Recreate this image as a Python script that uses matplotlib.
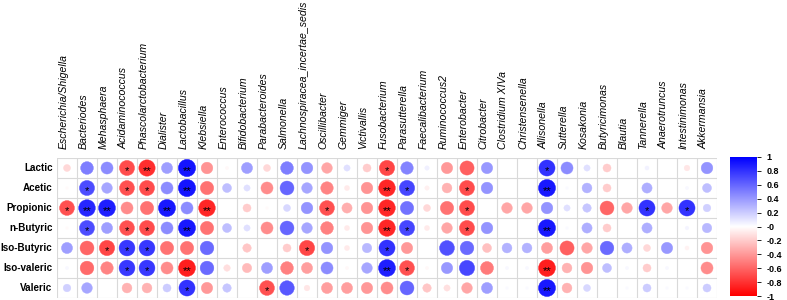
import numpy as np
import matplotlib
matplotlib.use('Agg')
import matplotlib.pyplot as plt
from matplotlib.colors import LinearSegmentedColormap
from matplotlib.patches import Circle

plt.rcParams['font.family'] = ['Liberation Sans', 'DejaVu Sans']

#genera across the top, acids down the side
genera = ['Escherichia/Shigella', 'Bacteriodes', 'Mehasphaera', 'Acidaminococcus',
          'Phascolarctobacterium', 'Dialister', 'Lactobacillus', 'Klebsiella',
          'Enterococcus', 'Bifidobacterium', 'Parabacteroides', 'Salmonella',
          'Lachnospiracea_incertae_sedis', 'Oscillibacter', 'Gemmiger', 'Victivallis',
          'Fusobacterium', 'Parasutterella', 'Faecalibacterium', 'Ruminococcus2',
          'Enterobacter', 'Citrobacter', 'Clostridium XIVa', 'Christensenella',
          'Allisonella', 'Sutterella', 'Kosakonia', 'Butyricimonas', 'Blautia',
          'Tannerella', 'Anaerotruncus', 'Intestinimonas', 'Akkermansia']
acids = ['Lactic', 'Acetic', 'Propionic', 'n-Butyric', 'Iso-Butyric', 'Iso-valeric', 'Valeric']

#correlation values
lactic = [-0.15, 0.5, 0.45, -0.7, -0.82, 0.38, 0.92, -0.42, -0.03, 0.38, -0.15, 0.5, 0.42, -0.35,
          0.12, -0.2, -0.72, 0.48, 0.06, -0.4, -0.62, 0.4, 0, 0, 0.8, 0.45, 0.12, -0.2, 0, 0.05,
          0, -0.1, 0.42]
acetic = [-0.02, 0.7, 0.35, -0.68, -0.7, 0.45, 0.92, -0.55, 0.25, 0.12, -0.45, 0.6, 0.35, -0.48,
          -0.08, -0.42, -0.85, 0.72, -0.06, -0.3, -0.7, 0.42, 0, 0, 0.9, 0.02, 0.3, -0.2, 0, 0.32,
          0, 0.03, 0.25]
propionic = [-0.68, 0.85, 0.88, -0.45, -0.55, 0.9, 0.45, -0.85, 0, -0.2, -0.02, 0.15, 0.42, -0.68,
             -0.32, -0.42, -0.85, 0.55, -0.15, -0.55, -0.7, 0, -0.35, -0.35, 0.42, 0.12, 0.22,
             -0.6, -0.35, 0.8, -0.35, 0.8, 0.18]
n_butyric = [-0.02, 0.7, 0.38, -0.68, -0.7, 0.45, 0.9, -0.55, 0.25, 0.12, -0.45, 0.6, 0.35, -0.5,
             -0.08, -0.42, -0.85, 0.72, -0.08, -0.35, -0.7, 0.42, 0, 0, 0.9, 0.02, 0.32, -0.2, 0,
             0.32, 0, 0.04, 0.28]
iso_butyric = [0.38, -0.6, -0.72, 0.78, 0.78, -0.55, -0.55, 0.58, 0, -0.22, 0, -0.2, -0.72, 0.42,
               -0.08, 0.28, 0.8, -0.4, 0, 0.68, 0.58, -0.25, 0.3, 0.3, -0.38, -0.62, -0.35, 0.58,
               0.32, -0.15, 0.4, -0.05, -0.42]
iso_valeric = [0.03, -0.58, -0.48, 0.78, 0.78, -0.45, -0.88, 0.58, -0.13, -0.27, 0.38, -0.5, -0.38,
               0.45, -0.03, 0.35, 0.88, -0.68, -0.03, 0.4, 0.72, -0.52, 0.03, 0.03, -0.88, -0.3,
               -0.42, 0.25, 0.03, -0.2, 0.03, 0, -0.45]
valeric = [0.18, 0.35, 0, -0.3, -0.3, 0.2, 0.8, -0.4, 0.22, 0, -0.68, 0.65, -0.1, -0.38, -0.38,
           -0.4, -0.45, 0.6, -0.22, -0.12, -0.35, 0.38, 0.02, 0.02, 0.9, -0.3, 0.15, 0, 0.02, 0.2,
           0.02, 0.02, 0.2]

#significance stars, {column index (1-based): mark}
sig_lactic = {4: '*', 5: '**', 7: '**', 17: '*', 25: '*'}
sig_acetic = {2: '*', 4: '*', 5: '*', 7: '**', 17: '**', 18: '*', 21: '*', 25: '**'}
sig_propionic = {1: '*', 2: '**', 3: '**', 6: '**', 8: '**', 14: '*', 17: '**', 21: '*', 30: '*', 32: '*'}
sig_n_butyric = {2: '*', 4: '*', 5: '*', 7: '**', 17: '**', 18: '*', 21: '*', 25: '**'}
sig_iso_butyric = {3: '*', 4: '*', 5: '*', 13: '*', 17: '*'}
sig_iso_valeric = {4: '*', 5: '*', 7: '**', 17: '**', 18: '*', 25: '**'}
sig_valeric = {7: '*', 11: '*', 25: '**'}

corr = np.array([lactic, acetic, propionic, n_butyric, iso_butyric, iso_valeric, valeric])
sigs = [sig_lactic, sig_acetic, sig_propionic, sig_n_butyric, sig_iso_butyric, sig_iso_valeric, sig_valeric]

cmap = LinearSegmentedColormap.from_list('rwb', ['#FF0000', '#FFFFFF', '#0000FF'])

fig = plt.figure(figsize=(7.87, 3.0), dpi=100)
W, H = 787.0, 300.0
nrow, ncol = corr.shape

ax = fig.add_axes([57 / W, 2 / H, 660 / W, 140 / H])
ax.set_xlim(0, ncol)
ax.set_ylim(nrow, 0)
ax.set_aspect('equal')
ax.axis('off')

#cell grid
for i in range(ncol + 1):
    ax.plot([i, i], [0, nrow], color='#D9D9D9', lw=0.8, zorder=1)
for j in range(nrow + 1):
    ax.plot([0, ncol], [j, j], color='#D9D9D9', lw=0.8, zorder=1)

#circles, radius scales with sqrt of |r| like corrplot
for r in range(nrow):
    for c in range(ncol):
        v = corr[r, c]
        if v == 0:
            continue
        col = cmap((v + 1) / 2)
        ax.add_patch(Circle((c + 0.5, r + 0.5), 0.45 * np.sqrt(abs(v)), facecolor=col,
                            edgecolor=col, lw=0.3, zorder=2))
        mark = sigs[r].get(c + 1)
        if mark:
            ax.text(c + 0.5, r + 0.66, mark, ha='center', va='center', fontsize=8,
                    color='black', zorder=3)

for r, name in enumerate(acids):
    ax.text(-0.22, r + 0.5, name, ha='right', va='center', fontsize=7.1, fontweight='bold')

for c, name in enumerate(genera):
    ax.text(c + 0.32, -0.45, name, ha='center', va='bottom', rotation=90, fontsize=7.6,
            fontstyle='italic')

#colour legend
cax = fig.add_axes([730 / W, 4 / H, 27 / W, 139 / H])
grad = np.linspace(-1, 1, 256).reshape(-1, 1)
cax.imshow(grad, cmap=cmap, aspect='auto', origin='lower', extent=[0, 1, -1, 1])
cax.set_xticks([])
cax.yaxis.tick_right()
ticks = np.round(np.arange(-1, 1.01, 0.2), 1)
cax.set_yticks(ticks)
cax.set_yticklabels(['%g' % t for t in ticks], fontsize=6.5, fontweight='bold')
cax.tick_params(axis='y', length=3, width=0.6, pad=4, colors='black')
for s in cax.spines.values():
    s.set_visible(False)

plt.savefig('out.png', dpi=100)
